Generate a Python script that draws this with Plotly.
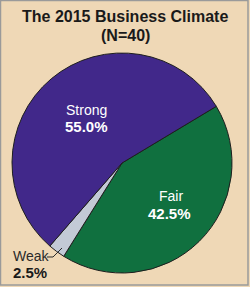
import plotly.graph_objects as go

categories = ["Fair", "Weak", "Strong"]
values = [42.5, 2.5, 55.0]
colors = ["#10703F", "#C3CAD6", "#41288A"]
title_lines = ["The 2015 Business Climate", "(N=40)"]

W, H = 250, 287

def px(x, y):
    return x / W, 1 - y / H

fig = go.Figure(go.Pie(
    labels=categories, values=values, sort=False, direction="clockwise",
    rotation=59, textinfo="none", hoverinfo="label+percent",
    marker=dict(colors=colors, line=dict(color="#1e1e1e", width=1)),
    domain=dict(x=[12 / W, 232 / W], y=[14 / H, 234 / H]),
    showlegend=False,
))

ann = []
def add(text, x, y, color, size, bold=False, xanchor="center"):
    xx, yy = px(x, y)
    ann.append(dict(text=("<b>%s</b>" % text) if bold else text, x=xx, y=yy,
                    xref="paper", yref="paper", showarrow=False, xanchor=xanchor,
                    yanchor="middle", borderpad=0,
                    font=dict(family="Liberation Sans, Arial, sans-serif",
                              size=size, color=color)))

add(title_lines[0], 125, 17, "#1a1a1a", 16, True)
add(title_lines[1], 125, 36, "#1a1a1a", 16, True)
add(categories[2], 86, 110, "white", 14)
add("%.1f%%" % values[2], 86, 127, "white", 15, True)
add(categories[0], 171, 196, "white", 14)
add("%.1f%%" % values[0], 169, 213, "white", 15, True)
add(categories[1], 12, 256, "#2a2a2a", 14, xanchor="left")
add("%.1f%%" % values[1], 12, 272, "#1a1a1a", 15, True, xanchor="left")

x0, y0 = px(47, 257)
x1, y1 = px(53, 257)
x2, y2 = px(62, 248)
shapes = [
    dict(type="rect", xref="paper", yref="paper", x0=0.5 / W, x1=1 - 2 / W,
         y0=2 / H, y1=1 - 0.5 / H, line=dict(color="#9a9a9a", width=1.5)),
    dict(type="path", xref="paper", yref="paper",
         path="M %f %f L %f %f L %f %f" % (x0, y0, x1, y1, x2, y2),
         line=dict(color="#2a2a2a", width=1)),
]

fig.update_layout(
    width=W, height=H, margin=dict(l=0, r=0, t=0, b=0),
    paper_bgcolor="#EFD8B6", plot_bgcolor="#EFD8B6",
    annotations=ann, shapes=shapes,
)
fig.write_html("out.html")
